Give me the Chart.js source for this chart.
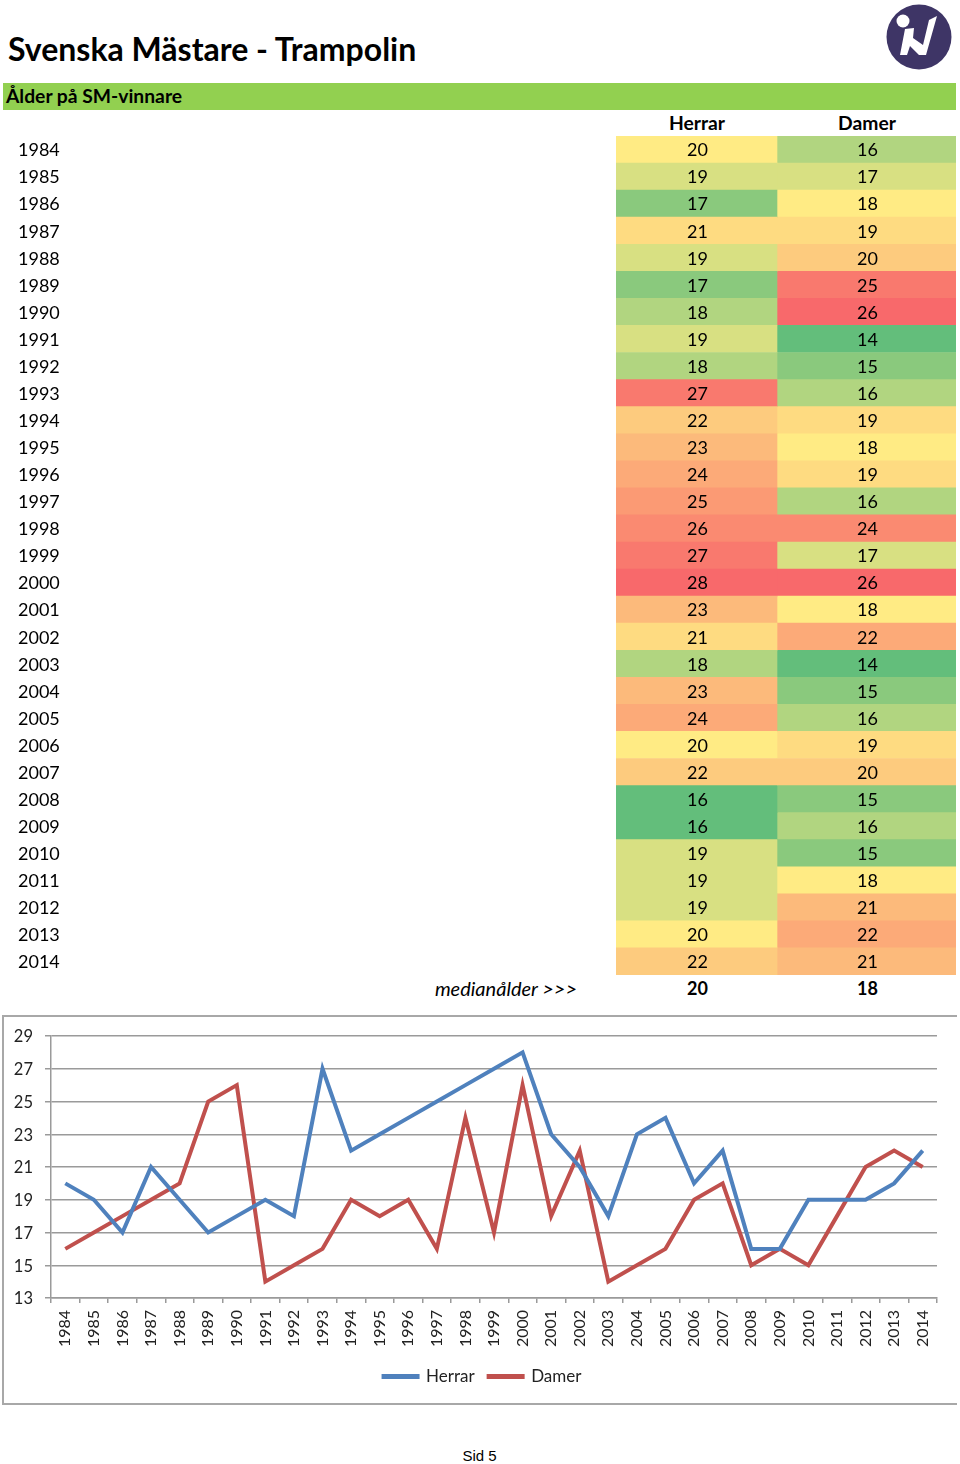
<!DOCTYPE html>
<html lang="sv"><head><meta charset="utf-8">
<script src="https://cdn.jsdelivr.net/npm/chart.js@4"></script>
<style>
html,body{margin:0;padding:0;background:#fff}
body{position:relative;width:960px;height:1464px;overflow:hidden;font-family:Lato,sans-serif;color:#000}
.t{position:absolute;white-space:nowrap;line-height:1}
canvas{position:absolute}
#band{position:absolute;left:3px;top:83px;width:953px;height:27px;background:#92D050}
#frame{position:absolute;left:2px;top:1015px;width:953px;height:386px;border:solid #a8a8a8;border-width:2px 0 2px 2px;box-sizing:content-box}
</style></head><body>
<svg style="position:absolute;left:880px;top:0" width="80" height="76" viewBox="880 0 80 76">
<circle cx="919" cy="37" r="32.5" fill="#3E3566"/>
<circle cx="903" cy="21" r="6.5" fill="#fff"/>
<polygon fill="#fff" points="905,29 914,28 913,38 923,45 929,20 937,16 926,55 919,55 910,46 907,55 900,55" />
</svg>
<div class="t" style="left:8px;top:33px;font-size:32px;font-weight:700" id="title">Svenska Mästare - Trampolin</div>
<div id="band"></div>
<div class="t" style="left:6px;top:86px;font-size:19.3px;font-weight:700">Ålder på SM-vinnare</div>
<div class="t" style="left:616px;width:162px;top:113px;font-size:19.3px;font-weight:700;text-align:center" id="hH"></div>
<div class="t" style="left:777px;width:180px;top:113px;font-size:19.3px;font-weight:700;text-align:center" id="hD"></div>
<canvas id="table" width="960" height="839" style="left:0;top:136px"></canvas>
<div class="t" style="right:383px;top:978px;font-size:20px;font-style:italic">medianålder &gt;&gt;&gt;</div>
<div class="t" style="left:617px;width:161px;top:979px;font-size:18px;font-weight:700;text-align:center" id="mH"></div>
<div class="t" style="left:778px;width:179px;top:979px;font-size:18px;font-weight:700;text-align:center" id="mD"></div>
<div id="frame"></div>
<canvas id="line" width="960" height="388" style="left:0;top:1016px"></canvas>
<div class="t" style="left:0;width:959px;top:1448px;font-family:'Liberation Sans';font-size:15px;text-align:center">Sid 5</div>
<script>
const years = ['1984','1985','1986','1987','1988','1989','1990','1991','1992','1993','1994','1995','1996','1997','1998','1999','2000','2001','2002','2003','2004','2005','2006','2007','2008','2009','2010','2011','2012','2013','2014'];
const herrar = [20,19,17,21,19,17,18,19,18,27,22,23,24,25,26,27,28,23,21,18,23,24,20,22,16,16,19,19,19,20,22];
const damer  = [16,17,18,19,20,25,26,14,15,16,19,18,19,16,24,17,26,18,22,14,15,16,19,20,15,16,15,18,21,22,21];
const medianHerrar = 20;
const medianDamer = 18;
const seriesNames = ['Herrar','Damer'];
const yTicks = [13,15,17,19,21,23,25,27,29];

const BLUE='#4F81BD', RED='#C0504D', GRID='#9a9a9a';
const COL_SPLIT = 0.4735;

document.getElementById('hH').textContent=seriesNames[0];
document.getElementById('hD').textContent=seriesNames[1];
document.getElementById('mH').textContent=medianHerrar;
document.getElementById('mD').textContent=medianDamer;

function mix(a,b,t){return a.map((v,i)=>Math.round(v+(b[i]-v)*t));}
function heat(vals,med){
  const lo=Math.min(...vals),hi=Math.max(...vals);
  const G=[99,190,123],Y=[255,235,132],R=[248,105,107];
  return vals.map(v=>{
    const c=v<=med?mix(G,Y,(v-lo)/(med-lo)):mix(Y,R,(v-med)/(hi-med));
    return `rgb(${c.join(',')})`;
  });
}
const cellLabels={id:'cellLabels',afterDatasetsDraw(chart){
  const c=chart.ctx;c.save();
  c.font='18px Lato';c.fillStyle='#000';c.textAlign='center';c.textBaseline='middle';
  chart.data.datasets.forEach((ds,i)=>{
    chart.getDatasetMeta(i).data.forEach((el,j)=>{
      const p=el.getCenterPoint();
      c.fillText(String(ds.values[j]),p.x+1,p.y+1);
    });
  });
  c.restore();
}};
const wideLabelBox={id:'wideLabelBox',afterLayout(chart){chart.scales.y.left=0;}};
new Chart(document.getElementById('table'),{
  type:'bar',
  data:{labels:years,datasets:[
    {label:seriesNames[0],values:herrar,data:herrar.map(()=>[0,COL_SPLIT]),backgroundColor:heat(herrar,medianHerrar),barPercentage:1,categoryPercentage:1,grouped:false},
    {label:seriesNames[1],values:damer,data:damer.map(()=>[COL_SPLIT,1]),backgroundColor:heat(damer,medianDamer),barPercentage:1,categoryPercentage:1,grouped:false}
  ]},
  options:{indexAxis:'y',responsive:false,animation:false,
    layout:{padding:{left:18,right:4,top:0,bottom:0}},
    plugins:{legend:{display:false},tooltip:{enabled:false}},
    scales:{
      x:{display:false,min:0,max:1},
      y:{grid:{display:false},border:{display:false},
         afterFit(s){s.width=598;s.paddingTop=0;s.paddingBottom=0;},
         ticks:{crossAlign:'far',padding:0,labelOffset:1,color:'#000',font:{family:'Lato',size:18},autoSkip:false}}
    }},
  plugins:[cellLabels]
});
new Chart(document.getElementById('line'),{
  type:'line',
  data:{labels:years,datasets:[
    {label:seriesNames[0],data:herrar,borderColor:BLUE,backgroundColor:BLUE,borderWidth:4,pointRadius:0,tension:0,borderJoinStyle:'miter'},
    {label:seriesNames[1],data:damer,borderColor:RED,backgroundColor:RED,borderWidth:4,pointRadius:0,tension:0,borderJoinStyle:'miter'}
  ]},
  options:{responsive:false,animation:false,
    layout:{padding:{left:28,right:23,top:20,bottom:9}},
    plugins:{tooltip:{enabled:false},
      legend:{position:'bottom',labels:{boxWidth:34,boxHeight:1,padding:14,color:'#222',font:{family:'Lato',size:17}}}},
    scales:{
      x:{offset:true,
         afterFit(s){s.height=56;s.paddingLeft=0;s.paddingRight=0;},
         grid:{offset:true,drawOnChartArea:false,drawTicks:true,tickLength:5,color:GRID,lineWidth:1.5},
         border:{color:GRID,width:1.5},
         ticks:{minRotation:90,maxRotation:90,autoSkip:false,padding:7,color:'#222',font:{family:'Lato',size:16}}},
      y:{min:yTicks[0],max:yTicks[yTicks.length-1],
         afterFit(s){s.width=23;s.paddingTop=0;s.paddingBottom=0;},
         afterBuildTicks(s){s.ticks=yTicks.map(v=>({value:v}));},
         grid:{color:GRID,lineWidth:1.5,tickLength:6},
         border:{color:GRID,width:1.5},
         ticks:{padding:12,labelOffset:1,color:'#222',font:{family:'Lato',size:16.5}}}
    }},
  plugins:[wideLabelBox]
});
</script>
</body></html>
